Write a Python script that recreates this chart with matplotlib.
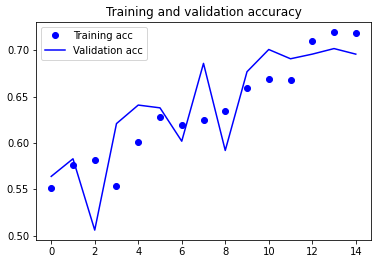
import matplotlib
matplotlib.use("Agg")
import matplotlib.pyplot as plt

epochs = list(range(15))
train_acc = [0.551, 0.576, 0.582, 0.554, 0.601, 0.628, 0.619, 0.625, 0.635,
             0.659, 0.669, 0.668, 0.710, 0.720, 0.719]
val_acc = [0.564, 0.583, 0.506, 0.621, 0.641, 0.638, 0.602, 0.686, 0.592,
           0.677, 0.701, 0.691, 0.696, 0.702, 0.696]

fig = plt.figure(figsize=(378/72, 264/72), dpi=72)
ax = fig.add_axes([36/378, 1-240/264, (371-36)/378, (240-22)/264])
ax.plot(epochs, train_acc, 'bo', label='Training acc')
ax.plot(epochs, val_acc, 'b', label='Validation acc')
ax.set_title('Training and validation accuracy')
ax.set_xticks([0, 2, 4, 6, 8, 10, 12, 14])
ax.set_yticks([0.50, 0.55, 0.60, 0.65, 0.70])
ax.legend(loc='upper left')
fig.savefig('out.png', dpi=72)
